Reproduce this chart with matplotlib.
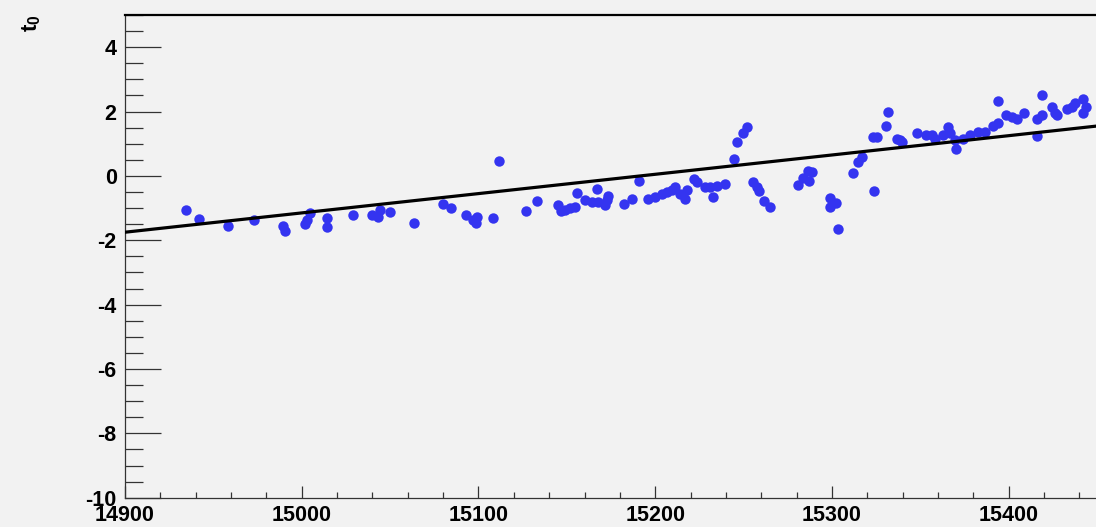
import numpy as np
import matplotlib.pyplot as plt
from matplotlib.ticker import MultipleLocator

plt.rcParams['font.family'] = ['Liberation Sans', 'DejaVu Sans']
plt.rcParams['mathtext.fontset'] = 'custom'
plt.rcParams['mathtext.bf'] = 'Liberation Sans:bold'
plt.rcParams['mathtext.rm'] = 'Liberation Sans'
plt.rcParams['axes.unicode_minus'] = False

# measured t0 per run
run = [14934.5, 14941.9, 14958.4, 14973.0, 14989.2, 14990.5, 15001.8, 15003.1, 15004.7, 15014.5,
       15014.5, 15029.2, 15039.6, 15043.3, 15044.3, 15049.9, 15063.7, 15079.7, 15084.4, 15092.9,
       15097.1, 15098.6, 15099.0, 15108.4, 15111.6, 15126.9, 15132.9, 15145.1, 15146.5, 15148.9,
       15151.8, 15154.6, 15155.6, 15160.3, 15164.0, 15166.9, 15167.8, 15171.6, 15172.5, 15173.4,
       15182.3, 15186.7, 15191.0, 15196.1, 15199.9, 15203.6, 15206.5, 15209.3, 15211.2, 15214.0,
       15216.8, 15217.8, 15221.9, 15223.8, 15228.1, 15230.9, 15232.5, 15234.8, 15239.5, 15244.6,
       15246.4, 15249.5, 15251.7, 15255.1, 15257.4, 15258.5, 15261.7, 15264.9, 15280.9, 15283.8,
       15286.6, 15287.2, 15288.5, 15298.9, 15298.9, 15302.3, 15303.6, 15311.7, 15314.9, 15316.8,
       15323.8, 15323.4, 15325.6, 15330.6, 15331.5, 15336.6, 15338.5, 15339.4, 15347.9, 15353.2,
       15356.4, 15358.3, 15363.0, 15365.8, 15366.8, 15369.6, 15370.2, 15374.3, 15378.1, 15382.8,
       15386.6, 15391.3, 15394.1, 15394.1, 15398.4, 15401.7, 15404.5, 15408.6, 15415.8, 15415.8,
       15418.7, 15418.7, 15424.3, 15426.2, 15427.5, 15432.8, 15435.6, 15437.5, 15441.8, 15442.2,
       15443.7]
t0 = [-1.07, -1.35, -1.56, -1.38, -1.56, -1.71, -1.48, -1.38, -1.15, -1.32,
      -1.60, -1.22, -1.22, -1.27, -1.07, -1.12, -1.45, -0.88, -1.00, -1.22,
      -1.37, -1.46, -1.29, -1.32, 0.45, -1.09, -0.79, -0.91, -1.09, -1.07,
      -1.01, -0.96, -0.53, -0.75, -0.81, -0.42, -0.81, -0.91, -0.75, -0.63,
      -0.86, -0.71, -0.16, -0.71, -0.65, -0.57, -0.50, -0.44, -0.34, -0.55,
      -0.71, -0.44, -0.11, -0.19, -0.36, -0.36, -0.67, -0.32, -0.24, 0.54,
      1.04, 1.34, 1.52, -0.20, -0.36, -0.47, -0.78, -0.98, -0.29, -0.05,
      0.16, -0.16, 0.12, -0.70, -0.96, -0.84, -1.66, 0.09, 0.43, 0.59,
      -0.47, 1.21, 1.21, 1.54, 1.99, 1.16, 1.11, 1.06, 1.32, 1.26,
      1.26, 1.16, 1.26, 1.52, 1.32, 1.11, 0.85, 1.16, 1.26, 1.37,
      1.37, 1.54, 1.63, 2.33, 1.89, 1.83, 1.78, 1.94, 1.23, 1.78,
      1.89, 2.51, 2.14, 1.96, 1.89, 2.09, 2.14, 2.25, 2.40, 1.94,
      2.14]

# linear fit line end points
fit_x = [14900, 15450]
fit_y = [-1.75, 1.55]

bg = '#f2f2f2'
fig = plt.figure(figsize=(10.96, 5.27), dpi=100, facecolor=bg)
ax = fig.add_axes([125 / 1096, 29.3 / 527, 971 / 1096, 482.7 / 527])
ax.set_facecolor(bg)

ax.plot(run, t0, 'o', color='#3434f0', markersize=7.5, markeredgewidth=0, zorder=2)
ax.plot(fit_x, fit_y, color='black', linewidth=2.3, zorder=3)

ax.set_xlim(14900, 15449.4)
ax.set_ylim(-10, 5)

ax.xaxis.set_major_locator(MultipleLocator(100))
ax.xaxis.set_minor_locator(MultipleLocator(20))
ax.yaxis.set_major_locator(MultipleLocator(2))
ax.yaxis.set_minor_locator(MultipleLocator(0.5))

ax.tick_params(axis='x', which='major', direction='in', length=9, width=0.9, color='#333333',
               labelsize=15.5, pad=5)
ax.tick_params(axis='x', which='minor', direction='in', length=4.5, width=0.9, color='#333333')
ax.tick_params(axis='y', which='major', direction='in', length=26, width=0.9, color='#333333',
               labelsize=15.5, pad=6)
ax.tick_params(axis='y', which='minor', direction='in', length=13, width=0.9, color='#333333')
for lab in ax.get_xticklabels() + ax.get_yticklabels():
    lab.set_fontweight('bold')

ax.spines['right'].set_visible(False)
ax.spines['top'].set_linewidth(1.6)
ax.spines['top'].set_color('black')
ax.spines['left'].set_linewidth(0.9)
ax.spines['left'].set_color('#333333')
ax.spines['bottom'].set_linewidth(0.9)
ax.spines['bottom'].set_color('#333333')

fig.text(0.029, 0.972, r'$\mathbf{t_0}$', rotation=90, ha='center', va='top', fontsize=16)

fig.savefig('out.png', dpi=100, facecolor=bg)
